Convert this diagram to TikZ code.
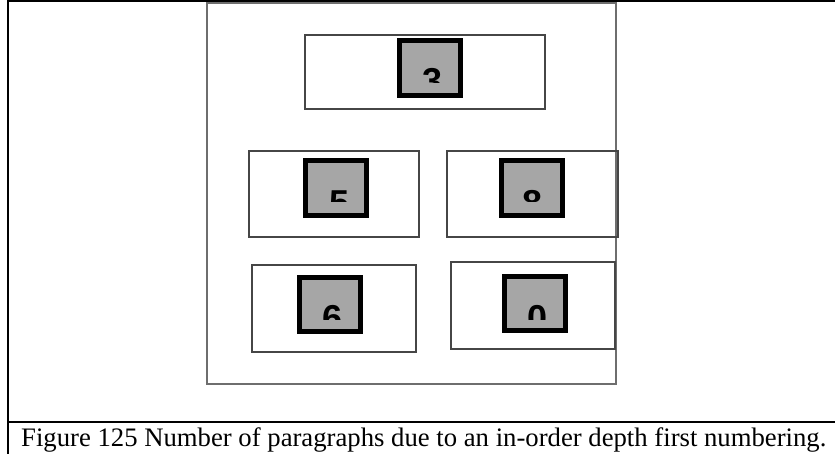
\documentclass[tikz,border=0pt]{standalone}
\usepackage{fontspec}
\setmainfont{Liberation Serif}
\newfontfamily\digitfont{Liberation Sans}
\definecolor{boxgray}{RGB}{166,166,166}
\definecolor{rulegray}{RGB}{70,70,70}
\definecolor{pagegray}{RGB}{110,110,110}

\begin{document}
\begin{tikzpicture}[x=1pt, y=-1pt,
  para/.style={draw=rulegray, line width=1.2pt},
  square/.style={draw=black, line width=5pt, fill=boxgray},
  digit/.style={font=\digitfont\bfseries\fontsize{36}{36}\selectfont, anchor=base, inner sep=0pt}]
  \useasboundingbox (0,0) rectangle (835,454);

  % outer frame and caption row
  \draw[line width=2pt] (8,454) -- (8,1) -- (835,1);
  \draw[line width=2pt] (8,422) -- (835,422);
  \node[anchor=base west, inner sep=0pt, font=\fontsize{26.7}{26.7}\selectfont] (caption) at (21,446.7)
    {Figure 125 Number of paragraphs due to an in-order depth first numbering.};

  % the page
  \draw[draw=pagegray, line width=1.5pt] (207,3) rectangle (616,384);

  % paragraph boxes
  \draw[para] (305,35) rectangle (545,109);
  \draw[para] (249,151) rectangle (419,237);
  \draw[para] (447,151) rectangle (618,237);
  \draw[para] (252,265) rectangle (416,352);
  \draw[para] (451,262) rectangle (615,349);

  % gray number squares
  \draw[square] (399.5,40.5) rectangle (460.5,95.5);
  \draw[square] (305.5,160.5) rectangle (366.5,215.5);
  \draw[square] (501.5,160.5) rectangle (562.5,215.5);
  \draw[square] (299.5,277.5) rectangle (360.5,331.5);
  \draw[square] (504.5,276.5) rectangle (565.5,330.5);

  % numbers, cut off half way
  \begin{scope}
    \clip (399,40) rectangle (461,83);
    \node[digit] (n3) at (432.5,93.8) {3};
  \end{scope}
  \begin{scope}
    \clip (305,160) rectangle (367,202);
    \node[digit] (n5) at (339.5,215.8) {5};
  \end{scope}
  \begin{scope}
    \clip (501,160) rectangle (563,202);
    \node[digit] (n8) at (533,215.8) {8};
  \end{scope}
  \begin{scope}
    \clip (299,277) rectangle (361,319);
    \node[digit] (n6) at (332.5,330.8) {6};
  \end{scope}
  \begin{scope}
    \clip (504,276) rectangle (566,319);
    \node[digit] (n0) at (538,330.8) {0};
  \end{scope}

\end{tikzpicture}
\end{document}
